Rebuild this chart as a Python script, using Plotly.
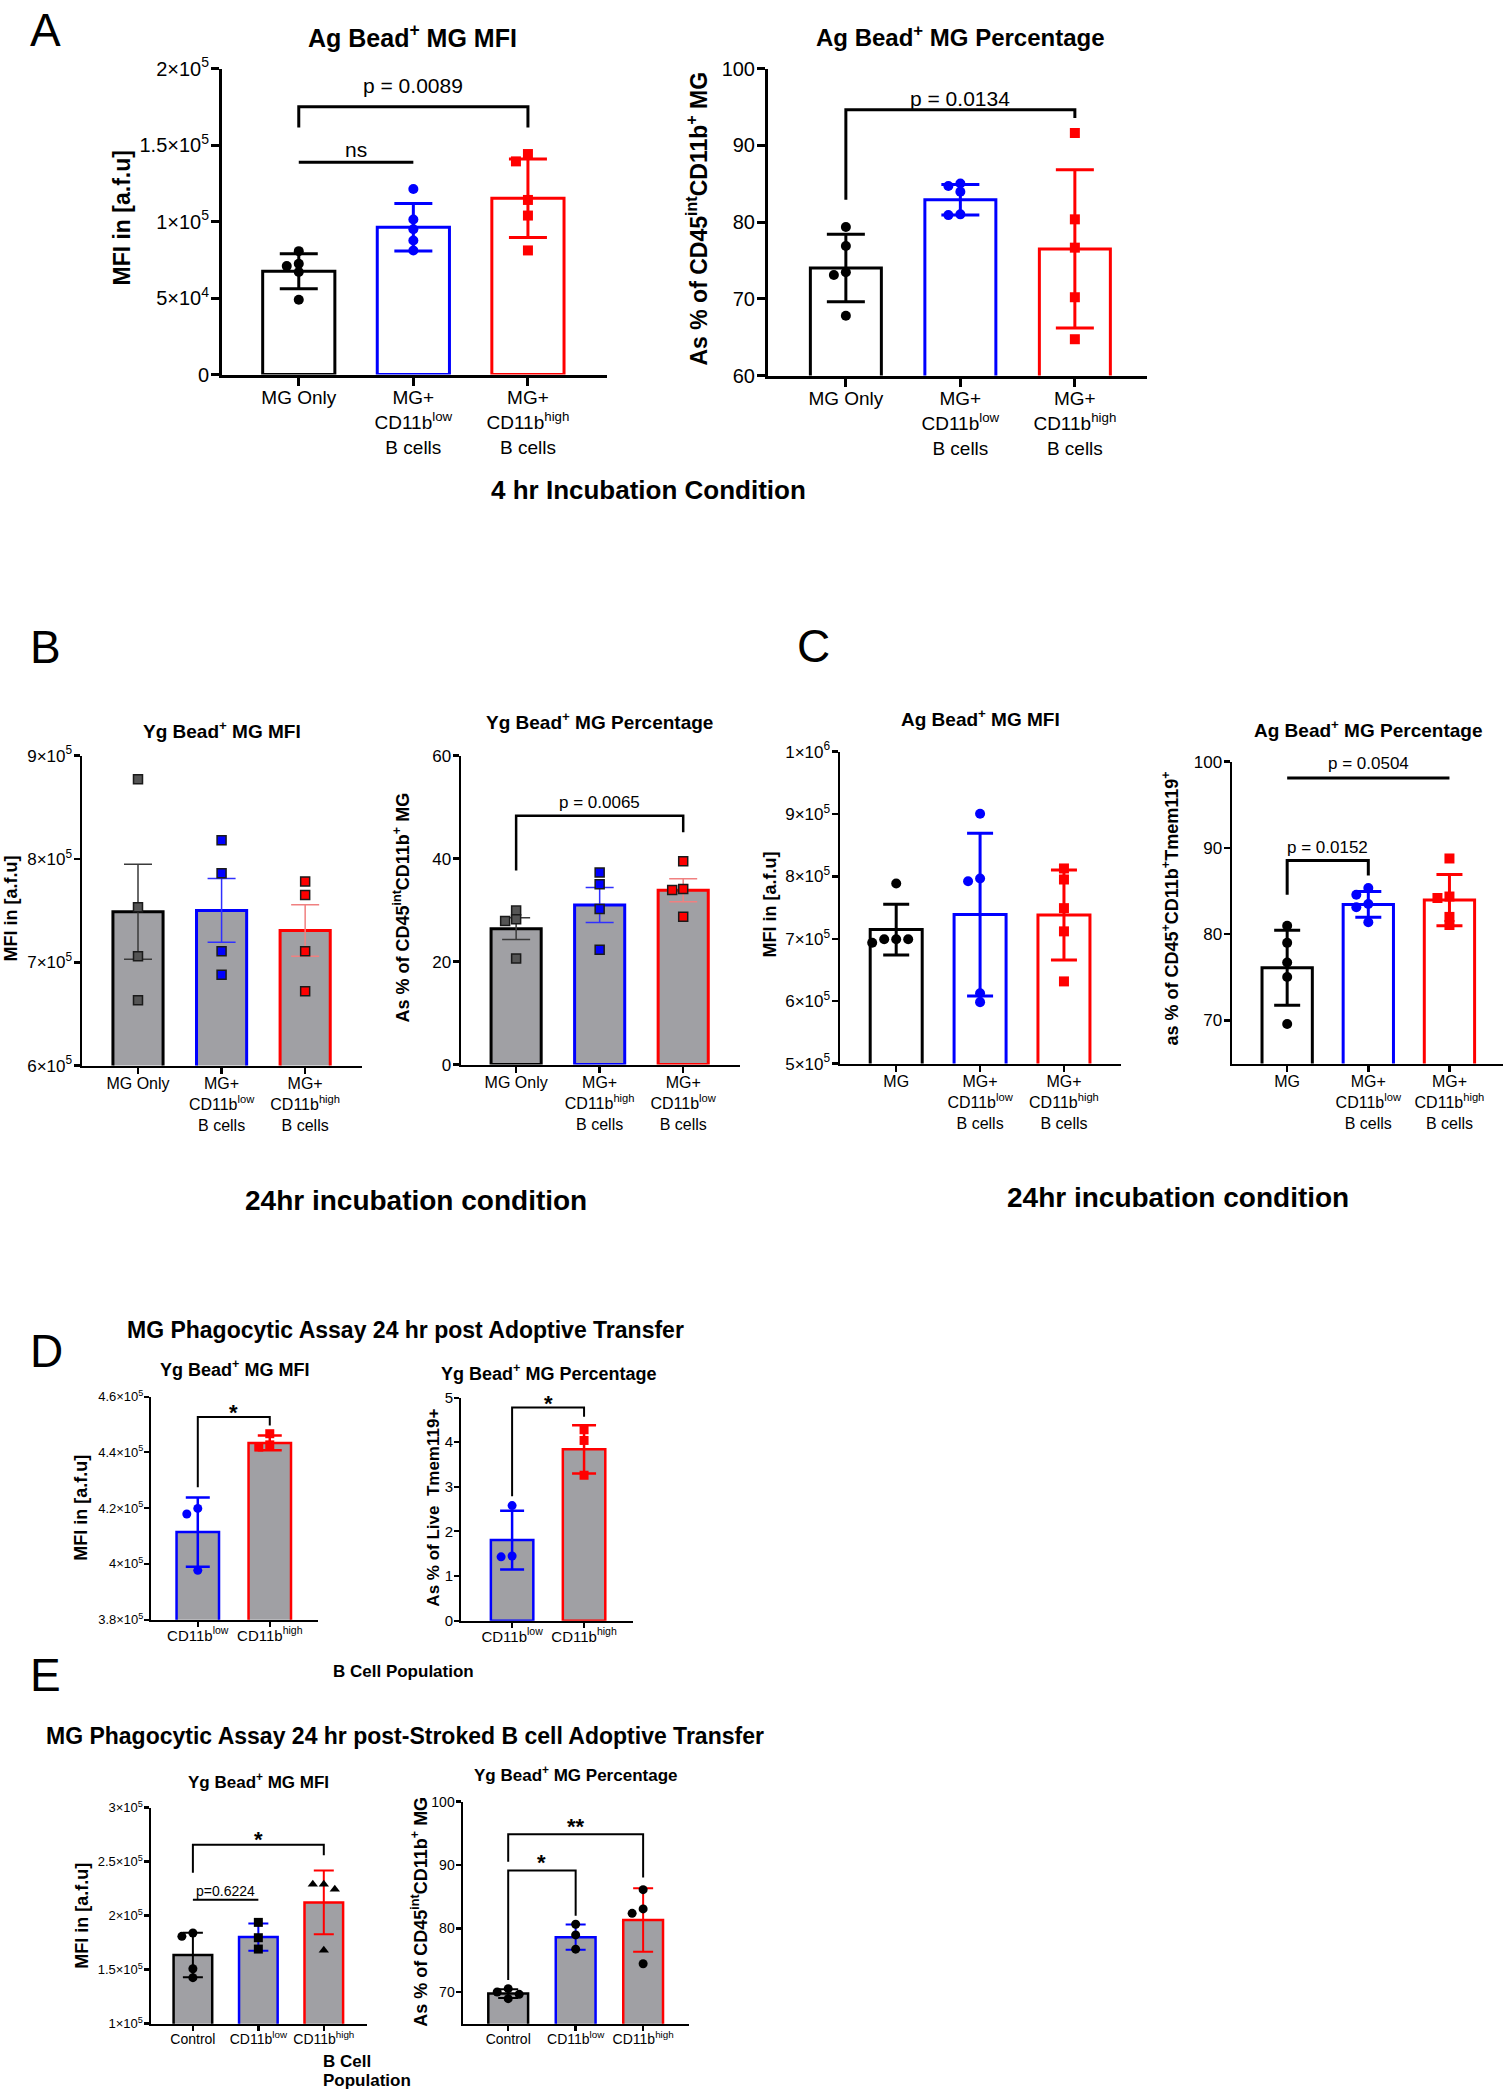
import math
import plotly.graph_objects as go

PAGE_W, PAGE_H = 1506, 2100
OFF = 0
FW, FH = PAGE_W - 2 * OFF, PAGE_H - 2 * OFF
# vertical calibration of the capture (measured from the previous renders)
CAL_A, CAL_B = 0.988, 13.5
FONT = "Liberation Sans, Arial, Helvetica, sans-serif"
BLACK, BLUE, RED = "#000000", "#0000FF", "#FF0000"
GRAY = "#A0A0A4"

# ---------------- DATA ----------------
cats_A = ["MG Only", "MG+<br>CD11b<sup>low</sup><br>B cells", "MG+<br>CD11b<sup>high</sup><br>B cells"]
cats_B_pct = ["MG Only", "MG+<br>CD11b<sup>high</sup><br>B cells", "MG+<br>CD11b<sup>low</sup><br>B cells"]
cats_C = ["MG", "MG+<br>CD11b<sup>low</sup><br>B cells", "MG+<br>CD11b<sup>high</sup><br>B cells"]
cats_D = ["CD11b<sup>low</sup>", "CD11b<sup>high</sup>"]
cats_E = ["Control", "CD11b<sup>low</sup>", "CD11b<sup>high</sup>"]

# A - 4 hr, Ag bead+ MG MFI
a_mfi_mean = [67500, 96300, 115200]
a_mfi_sd = [11500, 15500, 25700]
a_mfi_mg = [80650, 70870, 72390, 66960, 48910]
a_mfi_low = [121300, 101300, 95000, 87600, 81100]
a_mfi_high = [144100, 139300, 114100, 103900, 81100]
# A - 4 hr, Ag bead+ MG percentage
a_pct_mean = [74.0, 82.9, 76.5]
a_pct_sd = [4.4, 2.0, 10.3]
a_pct_mg = [79.35, 76.88, 73.45, 73.1, 67.8]
a_pct_low = [84.69, 85.03, 83.95, 80.9, 81.0]
a_pct_high = [91.6, 80.35, 76.66, 70.2, 64.73]

# B - 24 hr, Yg bead+ MG MFI
b_mfi_mean = [748800, 750200, 730800]
b_mfi_sem = [46000, 30800, 24900]
b_mfi_mg = [877150, 753300, 705900, 663300]
b_mfi_low = [818000, 786150, 710700, 687900]
b_mfi_high = [778200, 765000, 710700, 672000]
# B - 24 hr, Yg bead+ MG percentage (order: MG only, CD11b high, CD11b low)
b_pct_mean = [26.4, 31.0, 33.85]
b_pct_sem = [2.1, 3.4, 2.25]
b_pct_mg = [29.9, 28.2, 27.9, 20.6]
b_pct_g2 = [37.3, 35.0, 30.2, 22.3]
b_pct_g3 = [39.5, 34.1, 33.9, 28.7]

# C - 24 hr, Ag bead+ MG MFI
c_mfi_mean = [714800, 738800, 738300]
c_mfi_sd = [40600, 130300, 72100]
c_mfi_mg = [788700, 693600, 699300, 699300, 699300]
c_mfi_low = [900300, 796700, 792100, 612800, 598500]
c_mfi_high = [812700, 795000, 749100, 711900, 631700]
# C - 24 hr, Ag bead+ MG percentage
c_pct_mean = [76.1, 83.45, 83.95]
c_pct_sd = [4.35, 1.5, 2.97]
c_pct_mg = [80.97, 78.99, 76.72, 75.03, 69.58]
c_pct_low = [85.35, 84.56, 83.5, 83.12, 81.39]
c_pct_high = [88.77, 84.19, 84.36, 82.0, 81.06]

# D - adoptive transfer, Yg bead+ MG MFI
d_mfi_mean = [411400, 443400]
d_mfi_sd = [12400, 2650]
d_mfi_low = [419900, 417900, 397700]
d_mfi_high = [446700, 441900, 442700]
# D - Yg bead+ MG percentage
d_pct_mean = [1.806, 3.84]
d_pct_sd = [0.66, 0.54]
d_pct_low = [2.58, 1.43, 1.45]
d_pct_high = [4.28, 4.04, 3.26]

# E - stroked B cell adoptive transfer, Yg bead+ MG MFI
e_mfi_mean = [163600, 180200, 212300]
e_mfi_sd = [20500, 12600, 29600]
e_mfi_ctrl = [180900, 184000, 150900, 142600]
e_mfi_low = [193800, 179600, 169100]
e_mfi_high = [229000, 229000, 224400, 167900]
# E - Yg bead+ MG percentage
e_pct_mean = [69.74, 78.64, 81.36]
e_pct_sd = [0.7, 2.0, 5.0]
e_pct_ctrl = [68.95, 69.63, 70.0, 70.52]
e_pct_low = [80.68, 79.0, 76.75]
e_pct_high = [86.13, 83.09, 82.4, 74.45]

# y tick values
yt_a_mfi = [0, 50000, 100000, 150000, 200000]
yt_a_pct = [60, 70, 80, 90, 100]
yt_b_mfi = [600000, 700000, 800000, 900000]
yt_b_pct = [0, 20, 40, 60]
yt_c_mfi = [500000, 600000, 700000, 800000, 900000, 1000000]
yt_c_pct = [70, 80, 90, 100]
yt_d_mfi = [380000, 400000, 420000, 440000, 460000]
yt_d_pct = [0, 1, 2, 3, 4, 5]
yt_e_mfi = [100000, 150000, 200000, 250000, 300000]
yt_e_pct = [70, 80, 90, 100]

# significance brackets: (panel, i, j, y_top, y_left_end, y_right_end, label, label_y)
brackets = [
    (1, 0, 2, 175000, 161500, 161500, "p = 0.0089", 188700),
    (1, 0, 1, 138700, None, None, "ns", 147000),
    (2, 0, 2, 94.62, 82.9, 93.54, "p = 0.0134", 96.14),
    (4, 0, 2, 48.3, 37.7, 45.1, "p = 0.0065", 50.8),
    (6, 0, 1, 88.53, 84.56, 86.79, "p = 0.0152", 90.1),
    (6, 0, 2, 98.1, None, None, "p = 0.0504", 99.8),
    (7, 0, 1, 452700, 427500, 449600, "*", 456400),
    (8, 0, 1, 4.78, 2.79, 4.57, "*", 5.0),
    (9, 0, 2, 265700, 239800, 255900, "*", 275300),
    (9, 0, 1, 214800, None, None, "p=0.6224", 222800),
    (10, 0, 1, 89.16, 71.9, 82.0, "*", 91.2),
    (10, 0, 2, 94.87, 90.52, 88.06, "**", 96.9),
]

# ---------------- STYLES / LAYOUT (page pixel coordinates) ----------------
STY_A = dict(fill="white", bar_lw=3, axis_lw=3, ticklen=8, xfs=19, yfs=20, err_th=3, cap=19,
             ms=10, mline=0, mlinecol=BLACK, brk_lw=3, brk_fs=21, note_fs=21)
STY_B = dict(fill=GRAY, bar_lw=3, axis_lw=2.5, ticklen=6, xfs=16, yfs=17, err_th=1.5, cap=14,
             ms=9, mline=1.5, mlinecol="#1a1a1a", brk_lw=2.5, brk_fs=17, note_fs=17)
STY_C = dict(fill="white", bar_lw=3, axis_lw=2.5, ticklen=6, xfs=16, yfs=17, err_th=3, cap=13,
             ms=10, mline=0, mlinecol=BLACK, brk_lw=3, brk_fs=17, note_fs=17)
STY_D = dict(fill=GRAY, bar_lw=2.5, axis_lw=2, ticklen=5, xfs=15, yfs=13, err_th=2.5, cap=12,
             ms=9, mline=0, mlinecol=BLACK, brk_lw=2, brk_fs=22, note_fs=14)
STY_E = dict(fill=GRAY, bar_lw=2.5, axis_lw=2.5, ticklen=5, xfs=14, yfs=13, err_th=2, cap=10,
             ms=9, mline=0, mlinecol=BLACK, brk_lw=2, brk_fs=22, note_fs=14)

panels = [
    dict(box=(222, 68, 607, 374), xr=(-0.67, 2.69), yr=(0, 200000), yt=yt_a_mfi, cats=cats_A,
         mean=a_mfi_mean, err=a_mfi_sd, pts=[a_mfi_mg, a_mfi_low, a_mfi_high],
         cols=[BLACK, BLUE, RED], ecols=[BLACK, BLUE, RED], pcols=[BLACK, BLUE, RED],
         syms=["circle", "circle", "square"], bw=0.63, sty=STY_A),
    dict(box=(768, 68, 1147, 375), xr=(-0.68, 2.63), yr=(60, 100), yt=yt_a_pct, cats=cats_A,
         mean=a_pct_mean, err=a_pct_sd, pts=[a_pct_mg, a_pct_low, a_pct_high],
         cols=[BLACK, BLUE, RED], ecols=[BLACK, BLUE, RED], pcols=[BLACK, BLUE, RED],
         syms=["circle", "circle", "square"], bw=0.62, sty=STY_A),
    dict(box=(82, 755, 362, 1065), xr=(-0.67, 2.68), yr=(600000, 900000), yt=yt_b_mfi, cats=cats_A,
         mean=b_mfi_mean, err=b_mfi_sem, pts=[b_mfi_mg, b_mfi_low, b_mfi_high],
         cols=[BLACK, BLUE, RED], ecols=["#3a3a3a", "#3030ff", "#f08080"], pcols=["#555555", BLUE, RED],
         syms=["square", "square", "square"], bw=0.6, sty=STY_B),
    dict(box=(461, 755, 740, 1064), xr=(-0.66, 2.68), yr=(0, 60), yt=yt_b_pct, cats=cats_B_pct,
         mean=b_pct_mean, err=b_pct_sem, pts=[b_pct_mg, b_pct_g2, b_pct_g3],
         cols=[BLACK, BLUE, RED], ecols=["#3a3a3a", "#3030ff", "#f08080"], pcols=["#555555", BLUE, RED],
         syms=["square", "square", "square"], bw=0.6, sty=STY_B),
    dict(box=(840, 751, 1121, 1063), xr=(-0.67, 2.68), yr=(500000, 1000000), yt=yt_c_mfi, cats=cats_C,
         mean=c_mfi_mean, err=c_mfi_sd, pts=[c_mfi_mg, c_mfi_low, c_mfi_high],
         cols=[BLACK, BLUE, RED], ecols=[BLACK, BLUE, RED], pcols=[BLACK, BLUE, RED],
         syms=["circle", "circle", "square"], bw=0.62, sty=STY_C),
    dict(box=(1232, 761, 1503, 1063), xr=(-0.68, 2.66), yr=(65, 100), yt=yt_c_pct, cats=cats_C,
         mean=c_pct_mean, err=c_pct_sd, pts=[c_pct_mg, c_pct_low, c_pct_high],
         cols=[BLACK, BLUE, RED], ecols=[BLACK, BLUE, RED], pcols=[BLACK, BLUE, RED],
         syms=["circle", "circle", "square"], bw=0.62, sty=STY_C),
    dict(box=(151, 1396, 318, 1619), xr=(-0.65, 1.67), yr=(380000, 460000), yt=yt_d_mfi, cats=cats_D,
         mean=d_mfi_mean, err=d_mfi_sd, pts=[d_mfi_low, d_mfi_high],
         cols=[BLUE, RED], ecols=[BLUE, RED], pcols=[BLUE, RED],
         syms=["circle", "square"], bw=0.59, sty=STY_D),
    dict(box=(461, 1397, 633, 1620), xr=(-0.71, 1.68), yr=(0, 5), yt=yt_d_pct, cats=cats_D,
         mean=d_pct_mean, err=d_pct_sd, pts=[d_pct_low, d_pct_high],
         cols=[BLUE, RED], ecols=[BLUE, RED], pcols=[BLUE, RED],
         syms=["circle", "square"], bw=0.59, sty=dict(STY_D, yfs=15)),
    dict(box=(151, 1807, 367, 2023), xr=(-0.64, 2.66), yr=(100000, 300000), yt=yt_e_mfi, cats=cats_E,
         mean=e_mfi_mean, err=e_mfi_sd, pts=[e_mfi_ctrl, e_mfi_low, e_mfi_high],
         cols=[BLACK, BLUE, RED], ecols=[BLACK, BLUE, RED], pcols=[BLACK, BLACK, BLACK],
         syms=["circle", "square", "triangle-up"], bw=0.59, sty=STY_E),
    dict(box=(463, 1801, 689, 2023), xr=(-0.67, 2.68), yr=(65, 100), yt=yt_e_pct, cats=cats_E,
         mean=e_pct_mean, err=e_pct_sd, pts=[e_pct_ctrl, e_pct_low, e_pct_high],
         cols=[BLACK, BLUE, RED], ecols=[BLACK, BLUE, RED], pcols=[BLACK, BLACK, BLACK],
         syms=["circle", "circle", "circle"], bw=0.59, sty=dict(STY_E, yfs=14)),
]

titles = [
    (413, 35, "Ag Bead<sup>+</sup> MG MFI", 25),
    (960, 35, "Ag Bead<sup>+</sup> MG Percentage", 24),
    (222, 729, "Yg Bead<sup>+</sup> MG MFI", 19),
    (599, 720, "Yg Bead<sup>+</sup> MG Percentage", 19),
    (980, 717, "Ag Bead<sup>+</sup> MG MFI", 19),
    (1368, 728, "Ag Bead<sup>+</sup> MG Percentage", 19),
    (234, 1368, "Yg Bead<sup>+</sup> MG MFI", 18),
    (548, 1372, "Yg Bead<sup>+</sup> MG Percentage", 18),
    (258, 1780, "Yg Bead<sup>+</sup> MG MFI", 17),
    (575, 1773, "Yg Bead<sup>+</sup> MG Percentage", 17),
]
ytitles = [
    (122, 218, "MFI in [a.f.u]", 23),
    (697, 218, "As % of CD45<sup>int</sup>CD11b<sup>+</sup> MG", 23),
    (11, 908, "MFI in [a.f.u]", 18),
    (402, 907, "As % of CD45<sup>int</sup>CD11b<sup>+</sup> MG", 18),
    (770, 904, "MFI in [a.f.u]", 18),
    (1171, 908, "as % of CD45<sup>+</sup>CD11b<sup>+</sup>Tmem119<sup>+</sup>", 18),
    (81, 1507, "MFI in [a.f.u]", 18),
    (434, 1507, "As % of Live  Tmem119+", 17),
    (82, 1915, "MFI in [a.f.u]", 18),
    (420, 1911, "As % of CD45<sup>int</sup>CD11b<sup>+</sup> MG", 18),
]
letters = [("A", 45, 20, 46), ("B", 45, 646, 46), ("C", 813, 645, 46), ("D", 46, 1350, 46), ("E", 45, 1674, 46)]
section_texts = [
    ("4 hr Incubation Condition", 648, 489, 26, "center"),
    ("24hr incubation condition", 416, 1200, 28, "center"),
    ("24hr incubation condition", 1178, 1197, 28, "center"),
    ("MG Phagocytic Assay 24 hr post Adoptive Transfer", 405, 1329, 23, "center"),
    ("B Cell Population", 403, 1671, 17, "center"),
    ("MG Phagocytic Assay 24 hr post-Stroked B cell Adoptive Transfer", 405, 1735, 23, "center"),
]
# two-line label at the very bottom of panel E ("B Cell" / "Population")
bottom_lines = ["B Cell", "Population"]
BOTTOM_X, BOTTOM_FS, BOTTOM_GAP = 322, 17, 19


# ---------------- HELPERS ----------------
def px_x(x):
    return (x - OFF) / FW


def px_y(y):
    yc = (y - CAL_B) / CAL_A
    return 1 - (yc - OFF) / FH


def sci(v):
    if v == 0:
        return "0"
    if abs(v) < 1000:
        return f"{v:g}"
    e = int(math.floor(math.log10(abs(v)) + 1e-9))
    m = round(v / 10 ** e, 2)
    return f"{m:g}×10<sup>{e}</sup>"


def swarm(vals, px_per_y, step, thresh):
    placed = []
    res = [0.0] * len(vals)
    order = sorted(range(len(vals)), key=lambda k: -vals[k])
    for k in order:
        y = vals[k] * px_per_y
        ox = 0.0
        for c in [0, -1, 1, -2, 2, -3, 3]:
            ox = c * step
            if all(math.hypot(ox - px, y - py) >= thresh for px, py in placed):
                break
        placed.append((ox, y))
        res[k] = ox
    return res


annotations = []
shapes = []


def pann(x, y, text, size, bold=True, angle=0, xanchor="center", align="center", ymax=None):
    if bold:
        text = f"<b>{text}</b>"
    py = px_y(y)
    if ymax is not None:
        py = min(py, ymax)
    annotations.append(dict(x=px_x(x), y=py, xref="paper", yref="paper", text=text,
                            showarrow=False, textangle=angle, xanchor=xanchor, yanchor="middle",
                            align=align, font=dict(family=FONT, size=size, color="black")))


fig = go.Figure()
layout = dict(width=FW, height=FH, margin=dict(l=0, r=0, t=0, b=0), paper_bgcolor="white",
              plot_bgcolor="rgba(0,0,0,0)", barmode="overlay", showlegend=False,
              font=dict(family=FONT, color="black"))

axis_names = []
for idx, p in enumerate(panels, start=1):
    sfx = "" if idx == 1 else str(idx)
    xn, yn = "x" + sfx, "y" + sfx
    axis_names.append((xn, yn))
    s = p["sty"]
    x0, y0, x1, y1 = p["box"]
    ncat = len(p["cats"])
    common = dict(showline=True, linecolor="black", linewidth=s["axis_lw"], ticks="outside",
                  ticklen=s["ticklen"], tickwidth=s["axis_lw"], tickcolor="black", showgrid=False,
                  zeroline=False, fixedrange=True)
    layout["xaxis" + sfx] = dict(domain=[px_x(x0), min(px_x(x1), 1.0)], range=list(p["xr"]), anchor=yn,
                                tickmode="array", tickvals=list(range(ncat)), ticktext=p["cats"],
                                ticklabelstandoff=-4,
                                tickfont=dict(family=FONT, size=s["xfs"], color="black"), **common)
    layout["yaxis" + sfx] = dict(domain=[px_y(y1), px_y(y0)], range=list(p["yr"]), anchor=xn,
                                tickmode="array", tickvals=p["yt"], ticktext=[sci(v) for v in p["yt"]],
                                ticklabelstandoff=-2,
                                tickfont=dict(family=FONT, size=s["yfs"], color="black"), **common)
    px_per_y = (y1 - y0) / CAL_A / (p["yr"][1] - p["yr"][0])
    px_per_x = (x1 - x0) / (p["xr"][1] - p["xr"][0])
    for g in range(ncat):
        fig.add_trace(go.Bar(
            x=[g], y=[p["mean"][g]], width=p["bw"], xaxis=xn, yaxis=yn,
            marker=dict(color=s["fill"], line=dict(color=p["cols"][g], width=s["bar_lw"])),
            error_y=dict(type="data", array=[p["err"][g]], visible=True, color=p["ecols"][g],
                         thickness=s["err_th"], width=s["cap"]),
            hoverinfo="skip"))
    for g in range(ncat):
        offs = swarm(p["pts"][g], px_per_y, s["ms"] + 2, s["ms"] * 0.8)
        fig.add_trace(go.Scatter(
            x=[g + o / px_per_x for o in offs], y=p["pts"][g], mode="markers", xaxis=xn, yaxis=yn,
            cliponaxis=False, hoverinfo="skip",
            marker=dict(symbol=p["syms"][g], size=s["ms"], color=p["pcols"][g],
                        line=dict(color=s["mlinecol"], width=s["mline"]))))

for (pi, i, j, ytop, yl, yr_, label, ly) in brackets:
    xn, yn = axis_names[pi - 1]
    s = panels[pi - 1]["sty"]
    if yl is None:
        path = f"M {i},{ytop} L {j},{ytop}"
    else:
        path = f"M {i},{yl} L {i},{ytop} L {j},{ytop} L {j},{yr_}"
    shapes.append(dict(type="path", path=path, xref=xn, yref=yn, fillcolor="rgba(0,0,0,0)",
                       line=dict(color="black", width=s["brk_lw"])))
    is_star = label.startswith("*")
    fs = s["brk_fs"] if is_star else s["note_fs"]
    annotations.append(dict(x=(i + j) / 2, y=ly, xref=xn, yref=yn,
                            text=f"<b>{label}</b>" if is_star else label,
                            showarrow=False, xanchor="center", yanchor="middle",
                            yshift=-0.25 * fs if is_star else 0,
                            font=dict(family=FONT, size=fs, color="black")))

for (x, y, t, fs) in titles:
    pann(x, y, t, fs)
for (x, y, t, fs) in ytitles:
    pann(x, y, t, fs, angle=-90)
for (t, x, y, fs) in letters:
    # keep the glyph inside the drawing surface
    pann(x, y, t, fs, bold=False, ymax=1 - (0.36 * fs) / FH)
for (t, x, y, fs, al) in section_texts:
    pann(x, y, t, fs, xanchor="left" if al == "left" else "center", align=al)
# bottom two-line label: last line sits on the bottom edge, the other above it
n_lines = len(bottom_lines)
for k, line in enumerate(bottom_lines):
    rise = (n_lines - 1 - k) * BOTTOM_GAP / CAL_A
    annotations.append(dict(x=px_x(BOTTOM_X), y=0.0, xref="paper", yref="paper", text=f"<b>{line}</b>",
                            showarrow=False, xanchor="left", yanchor="bottom", align="left",
                            yshift=rise - 2, borderpad=0,
                            font=dict(family=FONT, size=BOTTOM_FS, color="black")))

layout["annotations"] = annotations
layout["shapes"] = shapes
fig.update_layout(**layout)

fig.write_html("out.html", config={"staticPlot": True},
               post_script="document.body.style.margin='0';")
